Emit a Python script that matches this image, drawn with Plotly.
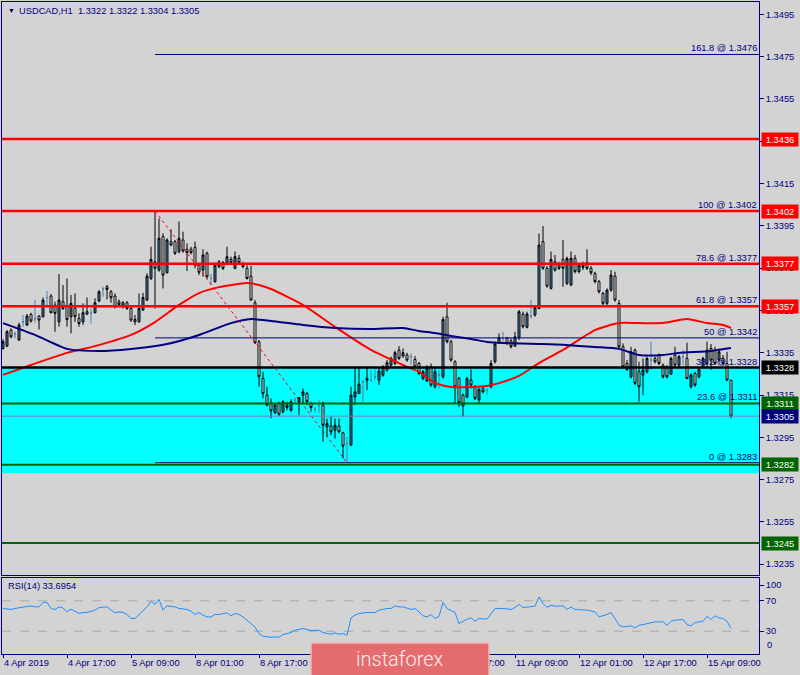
import numpy as np
import plotly.graph_objects as go

# ---------------- data ----------------
symbol_title = "USDCAD,H1\u00a0\u00a01.3322 1.3322 1.3304 1.3305"
rsi_title = "RSI(14) 33.6954"

open_ = [1.33370,1.33381,1.33457,1.33438,1.33410,1.33496,1.33481,1.33531,1.33511,1.33523,
         1.33520,1.33611,1.33618,1.33575,1.33496,1.33591,1.33570,1.33520,1.33559,1.33512,
         1.33496,1.33544,1.33536,1.33539,1.33594,1.33651,1.33662,1.33638,1.33618,1.33591,
         1.33586,1.33586,1.33559,1.33507,1.33496,1.33552,1.33599,1.33701,1.33780,1.33741,
         1.33899,1.33728,1.33875,1.33875,1.33828,1.33883,1.33839,1.33839,1.33848,1.33764,
         1.33741,1.33820,1.33701,1.33686,1.33780,1.33776,1.33776,1.33791,1.33749,1.33796,
         1.33764,1.33749,1.33712,1.33586,1.33402,1.33228,1.33149,1.33110,1.33066,1.33110,
         1.33071,1.33102,1.33078,1.33126,1.33118,1.33149,1.33157,1.33110,1.33082,1.33098,
         1.33102,1.32999,1.33003,1.32984,1.33003,1.32971,1.32921,1.32913,1.33141,1.33157,
         1.33212,1.33220,1.33220,1.33236,1.33220,1.33244,1.33268,1.33291,1.33299,1.33362,
         1.33334,1.33339,1.33331,1.33318,1.33299,1.33228,1.33217,1.33283,1.33189,1.33244,
         1.33236,1.33520,1.33402,1.33307,1.33228,1.33149,1.33141,1.33220,1.33186,1.33126,
         1.33181,1.33173,1.33189,1.33307,1.33397,1.33417,1.33418,1.33406,1.33381,1.33422,
         1.33533,1.33470,1.33523,1.33528,1.33559,1.33875,1.33749,1.33654,1.33780,1.33764,
         1.33791,1.33678,1.33670,1.33796,1.33733,1.33764,1.33776,1.33749,1.33725,1.33686,
         1.33630,1.33583,1.33646,1.33712,1.33583,1.33378,1.33299,1.33236,1.33362,1.33260,
         1.33244,1.33260,1.33315,1.33323,1.33339,1.33291,1.33283,1.33249,1.33339,1.33291,
         1.33331,1.33323,1.33189,1.33252,1.33236,1.33283,1.33299,1.33370,1.33362,1.33315,
         1.33323,1.33299,1.33220]
high = [1.33413,1.33457,1.33465,1.33449,1.33492,1.33528,1.33533,1.33539,1.33599,1.33528,
        1.33611,1.33641,1.33627,1.33591,1.33722,1.33670,1.33701,1.33623,1.33630,1.33536,
        1.33583,1.33611,1.33559,1.33607,1.33646,1.33662,1.33670,1.33646,1.33630,1.33602,
        1.33594,1.33594,1.33570,1.33528,1.33630,1.33633,1.33725,1.33851,1.34020,1.33985,
        1.33914,1.33891,1.33933,1.33883,1.33970,1.33922,1.33867,1.33851,1.33875,1.33772,
        1.33839,1.33828,1.33722,1.33772,1.33788,1.33784,1.33851,1.33804,1.33828,1.33812,
        1.33780,1.33764,1.33760,1.33599,1.33410,1.33260,1.33189,1.33134,1.33110,1.33118,
        1.33126,1.33118,1.33130,1.33138,1.33141,1.33181,1.33165,1.33118,1.33094,1.33126,
        1.33118,1.33039,1.33047,1.33039,1.33039,1.32976,1.32952,1.33189,1.33283,1.33276,
        1.33220,1.33283,1.33268,1.33283,1.33283,1.33291,1.33315,1.33331,1.33359,1.33381,
        1.33370,1.33350,1.33346,1.33334,1.33307,1.33268,1.33291,1.33299,1.33276,1.33268,
        1.33520,1.33586,1.33410,1.33315,1.33236,1.33157,1.33236,1.33271,1.33197,1.33186,
        1.33189,1.33181,1.33315,1.33402,1.33441,1.33449,1.33425,1.33418,1.33449,1.33552,
        1.33544,1.33544,1.33599,1.33575,1.33914,1.33949,1.33760,1.33828,1.33812,1.33780,
        1.33883,1.33804,1.33828,1.33812,1.33772,1.33780,1.33839,1.33760,1.33733,1.33694,
        1.33638,1.33654,1.33741,1.33733,1.33599,1.33394,1.33315,1.33378,1.33370,1.33307,
        1.33323,1.33331,1.33402,1.33331,1.33346,1.33299,1.33291,1.33331,1.33378,1.33339,
        1.33362,1.33397,1.33252,1.33260,1.33283,1.33331,1.33402,1.33391,1.33378,1.33370,
        1.33339,1.33354,1.33220]
low = [1.33365,1.33378,1.33418,1.33418,1.33406,1.33473,1.33476,1.33492,1.33492,1.33460,
       1.33517,1.33564,1.33536,1.33449,1.33473,1.33552,1.33473,1.33441,1.33496,1.33473,
       1.33481,1.33528,1.33488,1.33536,1.33589,1.33615,1.33602,1.33586,1.33559,1.33567,
       1.33559,1.33552,1.33496,1.33481,1.33492,1.33548,1.33594,1.33694,1.33559,1.33733,
       1.33654,1.33725,1.33854,1.33812,1.33820,1.33823,1.33736,1.33815,1.33749,1.33717,
       1.33709,1.33701,1.33670,1.33681,1.33749,1.33741,1.33764,1.33768,1.33744,1.33768,
       1.33749,1.33696,1.33596,1.33391,1.33189,1.33134,1.33097,1.33039,1.33060,1.33050,
       1.33063,1.33078,1.33071,1.33110,1.33055,1.33110,1.33102,1.33071,1.33066,1.33066,
       1.32929,1.32952,1.32960,1.32944,1.32968,1.32850,1.32830,1.32908,1.33102,1.33154,
       1.33118,1.33173,1.33212,1.33220,1.33197,1.33236,1.33260,1.33283,1.33291,1.33315,
       1.33326,1.33307,1.33291,1.33276,1.33244,1.33220,1.33212,1.33189,1.33181,1.33181,
       1.33228,1.33394,1.33307,1.33110,1.33094,1.33047,1.33134,1.33181,1.33126,1.33110,
       1.33157,1.33149,1.33181,1.33299,1.33391,1.33402,1.33386,1.33370,1.33378,1.33410,
       1.33465,1.33465,1.33512,1.33520,1.33555,1.33741,1.33657,1.33649,1.33733,1.33741,
       1.33662,1.33670,1.33665,1.33725,1.33725,1.33741,1.33741,1.33717,1.33678,1.33630,
       1.33575,1.33575,1.33638,1.33591,1.33370,1.33276,1.33263,1.33228,1.33197,1.33118,
       1.33149,1.33252,1.33268,1.33299,1.33291,1.33228,1.33228,1.33244,1.33283,1.33283,
       1.33291,1.33224,1.33181,1.33189,1.33228,1.33276,1.33283,1.33268,1.33291,1.33307,
       1.33291,1.33220,1.33040]
close = [1.33402,1.33449,1.33425,1.33438,1.33481,1.33496,1.33523,1.33500,1.33511,1.33504,
         1.33599,1.33611,1.33539,1.33536,1.33599,1.33559,1.33507,1.33583,1.33520,1.33488,
         1.33539,1.33533,1.33536,1.33586,1.33638,1.33651,1.33649,1.33610,1.33567,1.33578,
         1.33575,1.33559,1.33504,1.33496,1.33559,1.33611,1.33712,1.33791,1.33749,1.33891,
         1.33717,1.33883,1.33859,1.33820,1.33891,1.33831,1.33823,1.33823,1.33764,1.33730,
         1.33812,1.33709,1.33701,1.33764,1.33757,1.33749,1.33804,1.33776,1.33804,1.33776,
         1.33757,1.33701,1.33599,1.33397,1.33236,1.33157,1.33102,1.33075,1.33102,1.33059,
         1.33118,1.33091,1.33118,1.33126,1.33138,1.33165,1.33118,1.33091,1.33082,1.33098,
         1.33007,1.33015,1.32976,1.33007,1.32976,1.32908,1.32921,1.33149,1.33165,1.33201,
         1.33212,1.33228,1.33220,1.33236,1.33263,1.33283,1.33303,1.33323,1.33350,1.33323,
         1.33350,1.33315,1.33331,1.33283,1.33252,1.33260,1.33276,1.33197,1.33260,1.33244,
         1.33507,1.33402,1.33315,1.33189,1.33114,1.33098,1.33228,1.33197,1.33134,1.33176,
         1.33165,1.33173,1.33299,1.33391,1.33422,1.33417,1.33394,1.33378,1.33425,1.33544,
         1.33473,1.33533,1.33523,1.33564,1.33859,1.33749,1.33665,1.33791,1.33741,1.33749,
         1.33749,1.33796,1.33796,1.33733,1.33764,1.33753,1.33749,1.33728,1.33686,1.33638,
         1.33583,1.33646,1.33717,1.33599,1.33378,1.33283,1.33271,1.33354,1.33205,1.33189,
         1.33268,1.33323,1.33315,1.33307,1.33299,1.33236,1.33236,1.33323,1.33291,1.33331,
         1.33331,1.33228,1.33244,1.33197,1.33271,1.33323,1.33362,1.33315,1.33299,1.33354,
         1.33299,1.33220,1.33050]

red_ma_bars = [0,7,16,24,32,38,44,49,54,61,64,67,75,83,92,100,104,108,112,117,121,125,129,134,
               140,148,154,159,165,171,176,180,182]
red_ma = [1.33245,1.33292,1.33349,1.33386,1.33434,1.33495,1.33576,1.33632,1.33660,1.33679,
          1.33670,1.33651,1.33576,1.33472,1.33363,1.33292,1.33259,1.33207,1.33188,1.33188,
          1.33193,1.33212,1.33240,1.33301,1.33363,1.33457,1.33490,1.33490,1.33490,1.33509,
          1.33490,1.33481,1.33467]
navy_ma_bars = [0,8,16,24,32,41,49,57,62,67,75,83,92,100,104,108,112,117,121,125,134,140,148,
                154,159,165,169,177,182]
navy_ma = [1.33490,1.33434,1.33368,1.33358,1.33368,1.33391,1.33434,1.33490,1.33509,1.33500,
           1.33481,1.33467,1.33462,1.33467,1.33453,1.33443,1.33429,1.33415,1.33401,1.33396,
           1.33391,1.33387,1.33377,1.33368,1.33339,1.33339,1.33349,1.33358,1.33372]

rsi_bars = [0,2,3,5,7,8,9,10,11,12,13,14,15,16,17,18,19,20,21,23,24,26,27,28,29,30,31,32,33,34,
            36,37,38,39,40,41,43,44,46,47,48,49,50,51,52,53,54,56,57,58,59,60,61,63,64,65,67,68,
            69,70,72,73,75,76,77,79,80,82,83,84,85,86,87,88,89,91,93,94,96,97,98,99,100,102,103,
            104,105,106,107,108,109,110,111,113,114,116,117,118,119,121,122,123,125,127,128,129,
            130,132,133,134,135,136,137,138,140,141,142,143,145,146,148,149,151,152,153,154,155,
            157,158,159,160,163,165,166,167,168,170,171,172,173,175,176,177,178,179,180,181,182]
rsi_vals = [59.9,58.6,59.9,62.0,63.3,62.0,62.0,67.8,67.8,59.9,58.6,62.0,60.7,55.4,59.0,56.3,
            53.3,54.6,54.6,57.7,61.2,62.0,57.7,54.2,55.4,54.6,52.0,46.7,46.7,52.0,62.0,69.5,
            65.2,71.8,57.7,63.3,62.0,59.9,58.6,56.3,52.0,54.6,51.1,48.8,48.8,52.0,52.0,54.2,
            50.3,53.3,52.0,48.8,44.5,35.6,26.9,23.4,22.0,22.5,22.0,25.6,28.2,31.3,33.5,32.2,
            30.9,31.3,28.2,26.0,27.7,26.0,26.9,24.7,47.5,51.1,53.3,54.6,54.6,57.7,59.9,59.9,
            63.3,62.0,62.0,58.6,59.9,55.4,50.3,48.8,52.0,46.7,49.5,67.8,59.9,54.6,40.1,45.8,
            47.5,43.1,46.7,45.8,53.3,59.9,59.9,58.6,61.2,65.2,61.2,62.9,62.9,75.2,66.5,61.2,
            64.2,62.9,63.3,58.6,62.0,58.6,58.6,57.7,55.4,48.8,52.0,54.6,46.7,37.9,35.6,37.0,
            34.3,37.9,38.7,42.3,42.3,37.9,43.1,44.5,45.4,38.7,37.0,41.4,43.1,49.7,45.4,50.3,
            47.5,46.7,43.0,33.7]

time_labels = ["4 Apr 2019", "4 Apr 17:00", "5 Apr 09:00", "8 Apr 01:00", "8 Apr 17:00",
               "9 Apr 09:00", "10 Apr 01:00", "10 Apr 17:00", "11 Apr 09:00", "12 Apr 01:00",
               "12 Apr 17:00", "15 Apr 09:00"]
price_ticks = [1.3235, 1.3255, 1.3275, 1.3295, 1.3315, 1.3335, 1.3355, 1.3375, 1.3395,
               1.3415, 1.3435, 1.3455, 1.3475, 1.3495]

resistance_levels = [1.3436, 1.3402, 1.3377, 1.3357]
pivot_level = 1.3328
support_levels = [1.3311, 1.3282, 1.3245]
current_price = 1.3305
zone_top, zone_bottom = 1.3328, 1.3278

fib_names = ["161.8", "100", "78.6", "61.8", "50", "38.2", "23.6", "0"]
fib_values = [1.3476, 1.3402, 1.3377, 1.3357, 1.3342, 1.3328, 1.3311, 1.3283]

rsi_levels = [70, 30]
rsi_tick_labels = ["100", "70", "30", "0"]

# ---------------- styling ----------------
NAVY = "#000080"
BG = "#d3d3d3"
FONT = "Liberation Sans"
FS = 9.3
W, H = 800, 675
ML, MR, MT, MB = 2, 41, 2, 21
PW, PH = W - ML - MR, H - MT - MB


def px_x(p):
    return (p - ML) / PW


def px_y(p):
    return (H - MB - p) / PH


o = np.array(open_); h = np.array(high); l = np.array(low); c = np.array(close)
n = len(o)
idx = np.arange(n)
bull = c > o
bear = c < o
doji = c == o

X_MAX = 189
fig = go.Figure()


def add_candles(mask, fill, line):
    fig.add_trace(go.Candlestick(
        x=idx[mask], open=o[mask], high=h[mask], low=l[mask], close=c[mask],
        increasing=dict(fillcolor=fill, line=dict(color=line, width=1)),
        decreasing=dict(fillcolor=fill, line=dict(color=line, width=1)),
        whiskerwidth=0, xaxis="x", yaxis="y", hoverinfo="skip"))


add_candles(bull, "#4682b4", "#000000")
add_candles(bear, "#ffffff", "#000000")
add_candles(doji, "#4682b4", "#4682b4")

fig.add_trace(go.Scatter(x=red_ma_bars, y=red_ma, mode="lines",
                         line=dict(color="#ff0000", width=2, shape="spline", smoothing=0.6),
                         xaxis="x", yaxis="y", hoverinfo="skip"))
fig.add_trace(go.Scatter(x=navy_ma_bars, y=navy_ma, mode="lines",
                         line=dict(color=NAVY, width=2, shape="spline", smoothing=0.6),
                         xaxis="x", yaxis="y", hoverinfo="skip"))
fig.add_trace(go.Scatter(x=rsi_bars, y=rsi_vals, mode="lines",
                         line=dict(color="#1e90ff", width=1),
                         xaxis="x2", yaxis="y2", hoverinfo="skip"))

shapes = []
shapes.append(dict(type="rect", xref="paper", yref="y", x0=0, x1=1, y0=zone_bottom, y1=zone_top,
                   fillcolor="#00ffff", line=dict(width=0), layer="below"))
hi_idx = int(np.argmax(h)); lo_idx = int(np.argmin(l))
for v in fib_values:
    shapes.append(dict(type="line", xref="x", yref="y", x0=hi_idx, x1=X_MAX, y0=v, y1=v,
                       line=dict(color=NAVY, width=1), layer="above"))
for v in resistance_levels:
    shapes.append(dict(type="line", xref="paper", yref="y", x0=0, x1=1, y0=v, y1=v,
                       line=dict(color="#ff0000", width=2.5), layer="above"))
shapes.append(dict(type="line", xref="paper", yref="y", x0=0, x1=1, y0=pivot_level, y1=pivot_level,
                   line=dict(color="#000000", width=2.5), layer="above"))
for v in support_levels:
    shapes.append(dict(type="line", xref="paper", yref="y", x0=0, x1=1, y0=v, y1=v,
                       line=dict(color="#006400", width=2), layer="above"))
shapes.append(dict(type="line", xref="paper", yref="y", x0=0, x1=1, y0=current_price, y1=current_price,
                   line=dict(color="#7080c8", width=1), layer="above"))
shapes.append(dict(type="line", xref="x", yref="y", x0=hi_idx, y0=h[hi_idx], x1=lo_idx, y1=l[lo_idx],
                   line=dict(color="#ff0000", width=1, dash="dot"), layer="above"))
for v in rsi_levels:
    shapes.append(dict(type="line", xref="paper", yref="y2", x0=0, x1=1, y0=v, y1=v,
                       line=dict(color="#a8a8a8", width=1, dash="dash"), layer="below"))
shapes.append(dict(type="rect", xref="paper", yref="paper", x0=px_x(311), x1=px_x(489),
                   y0=px_y(677), y1=px_y(643), fillcolor="#e46c6f",
                   line=dict(color="#f3b5b7", width=1.5), layer="above"))

annotations = []
annotations.append(dict(xref="paper", yref="paper", x=px_x(6), y=px_y(10.5), text="\u25bc",
                        showarrow=False, xanchor="left", yanchor="middle",
                        font=dict(family=FONT, size=7, color="#000040")))
annotations.append(dict(xref="paper", yref="paper", x=px_x(17), y=px_y(10.8), text=symbol_title,
                        showarrow=False, xanchor="left", yanchor="middle",
                        font=dict(family=FONT, size=FS, color=NAVY)))
annotations.append(dict(xref="paper", yref="paper", x=px_x(6), y=px_y(586), text=rsi_title,
                        showarrow=False, xanchor="left", yanchor="middle",
                        font=dict(family=FONT, size=FS, color=NAVY)))
for name, v in zip(fib_names, fib_values):
    annotations.append(dict(xref="paper", yref="y", x=px_x(758), y=v, text=f"{name} @ {v:.4f}",
                            showarrow=False, xanchor="right", yanchor="bottom", borderpad=0,
                            font=dict(family=FONT, size=FS, color=NAVY)))
label_boxes = ([(v, "#ff0000") for v in resistance_levels] + [(pivot_level, "#000000")]
               + [(support_levels[0], "#006400"), (current_price, "#000080"),
                  (support_levels[1], "#006400"), (support_levels[2], "#006400")])
for v, col in label_boxes:
    annotations.append(dict(xref="paper", yref="y", x=px_x(761), y=v, text=f"{v:.4f}",
                            showarrow=False, xanchor="left", yanchor="middle",
                            bgcolor=col, width=34, height=11, borderpad=1, align="center",
                            font=dict(family=FONT, size=FS, color="#ffffff")))
# RSI "0" label drawn as its own annotation, slightly inside the pane as in MT4
annotations.append(dict(xref="paper", yref="paper", x=px_x(765), y=px_y(645),
                        text="<b></b>" + rsi_tick_labels[3], showarrow=False,
                        xanchor="left", yanchor="middle",
                        font=dict(family=FONT, size=FS, color=NAVY)))
annotations.append(dict(xref="paper", yref="paper", x=px_x(400), y=px_y(659), text="instaforex",
                        showarrow=False, xanchor="center", yanchor="middle",
                        font=dict(family="Roboto", size=20, color="#fbecec", weight=300)))

axis_common = dict(showline=True, mirror=True, linecolor=NAVY, linewidth=1, showgrid=False,
                   zeroline=False, tickfont=dict(family=FONT, size=FS, color=NAVY),
                   tickcolor=NAVY)

fig.update_layout(
    width=W, height=H, margin=dict(l=ML, r=MR, t=MT, b=MB),
    paper_bgcolor=BG, plot_bgcolor=BG, showlegend=False, hovermode=False,
    shapes=shapes, annotations=annotations,
    xaxis=dict(domain=[0, 1], range=[-0.25, X_MAX], anchor="y", showticklabels=False,
               ticks="", rangeslider=dict(visible=False), **axis_common),
    xaxis2=dict(domain=[0, 1], range=[-0.25, X_MAX], anchor="y2", matches="x",
                tickvals=list(range(0, n, 16)), ticktext=time_labels, ticks="outside",
                ticklen=3, ticklabelposition="outside right",
                rangeslider=dict(visible=False), **axis_common),
    yaxis=dict(domain=[px_y(575), 1], range=[1.322989, 1.350082], anchor="x", side="right",
               tickvals=price_ticks, tickformat=".4f", ticks="outside", ticklen=4,
               **axis_common),
    yaxis2=dict(domain=[0, px_y(578)], range=[0, 100], anchor="x2", side="right",
                tickvals=[90.6, 70, 30], ticktext=rsi_tick_labels[:3], ticks="outside",
                ticklen=4, **axis_common),
)

fig.write_html("out.html", config={"displayModeBar": False},
               post_script="document.body.style.margin='0';document.body.style.overflow='hidden';")
